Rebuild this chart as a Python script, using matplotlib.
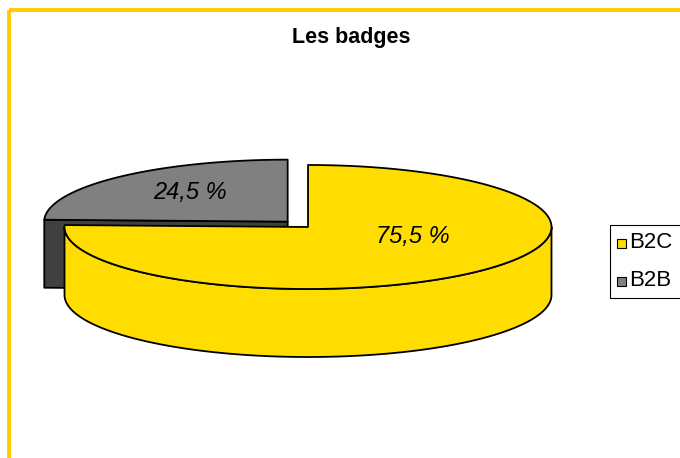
import numpy as np
import matplotlib
matplotlib.use('Agg')
import matplotlib.pyplot as plt
from matplotlib.patches import Polygon, Rectangle

plt.rcParams['font.family'] = ['Liberation Sans', 'DejaVu Sans']

title = 'Les badges'
labels = ['B2C', 'B2B']
values = [75.5, 24.5]
value_texts = ['75,5 %', '24,5 %']
top_colors = ['#FFDD00', '#808080']
side_colors = ['#FFDD00', '#404040']
explode = [0.0, 0.12]

# layout in pixels (axes = whole figure, y pointing down)
cx, cy = 308, 227
ra, rb = 243.5, 62
depth = 68
label_xy = [(413, 236), (190, 192)]
lw = 1.3


def arc(x0, y0, t1, t2, dz=0):
    th = np.radians(np.linspace(t1, t2, 200))
    return np.column_stack([x0 + ra * np.cos(th), y0 - rb * np.sin(th) + dz])


fig = plt.figure(figsize=(6.8, 4.58), dpi=100)
ax = fig.add_axes([0, 0, 1, 1])
ax.set_xlim(0, 680)
ax.set_ylim(458, 0)
ax.axis('off')

# slice angles: start at 12 o'clock, clockwise
total = sum(values)
slices = []
end = 90.0
for i, v in enumerate(values):
    start = end - v / total * 360.0
    mid = (start + end) / 2
    x0 = cx + explode[i] * ra * np.cos(np.radians(mid))
    y0 = cy - explode[i] * rb * np.sin(np.radians(mid))
    slices.append((i, start, end, mid, x0, y0))
    end = start

# back slices first
slices.sort(key=lambda s: -np.sin(np.radians(s[3])))

for i, t1, t2, mid, x0, y0 in slices:
    c = np.array([[x0, y0]])
    # radial faces that look to the front
    for t, visible in ((t1, np.cos(np.radians(t1)) > 1e-6), (t2, np.cos(np.radians(t2)) < -1e-6)):
        if visible:
            p = arc(x0, y0, t, t, 0)[:1]
            quad = np.vstack([c, p, p + [0, depth], c + [0, depth]])
            ax.add_patch(Polygon(quad, closed=True, fc=side_colors[i], ec='black', lw=lw, joinstyle='round'))
    # outer curved side, front half only
    for k in range(-2, 2):
        lo, hi = max(t1, -180 + 360 * k), min(t2, 360 * k)
        if lo < hi:
            side = np.vstack([arc(x0, y0, lo, hi), arc(x0, y0, hi, lo, depth)])
            ax.add_patch(Polygon(side, closed=True, fc=side_colors[i], ec='black', lw=lw, joinstyle='round'))
    # top face
    top = np.vstack([c, arc(x0, y0, t1, t2), c])
    ax.add_patch(Polygon(top, closed=True, fc=top_colors[i], ec='black', lw=lw, joinstyle='round'))
    ax.text(label_xy[i][0], label_xy[i][1], value_texts[i], fontsize=17, style='italic',
            ha='center', va='center', color='black')

ax.text(351, 37, title, fontsize=15.5, fontweight='bold', ha='center', va='center')

# legend
ax.add_patch(Rectangle((610, 225), 100, 73, fill=False, ec='black', lw=0.8))
for i, lab in enumerate(labels):
    yy = 243 + 38 * i
    ax.add_patch(Rectangle((617, yy - 4.5), 9, 9, fc=top_colors[i], ec='black', lw=0.8))
    ax.text(629, yy, lab, fontsize=16, ha='left', va='center')

# chart area frame
ax.add_patch(Rectangle((8.5, 10), 900, 700, fill=False, ec='#FFCC00', lw=2.8))

fig.savefig('out.png', dpi=100)
